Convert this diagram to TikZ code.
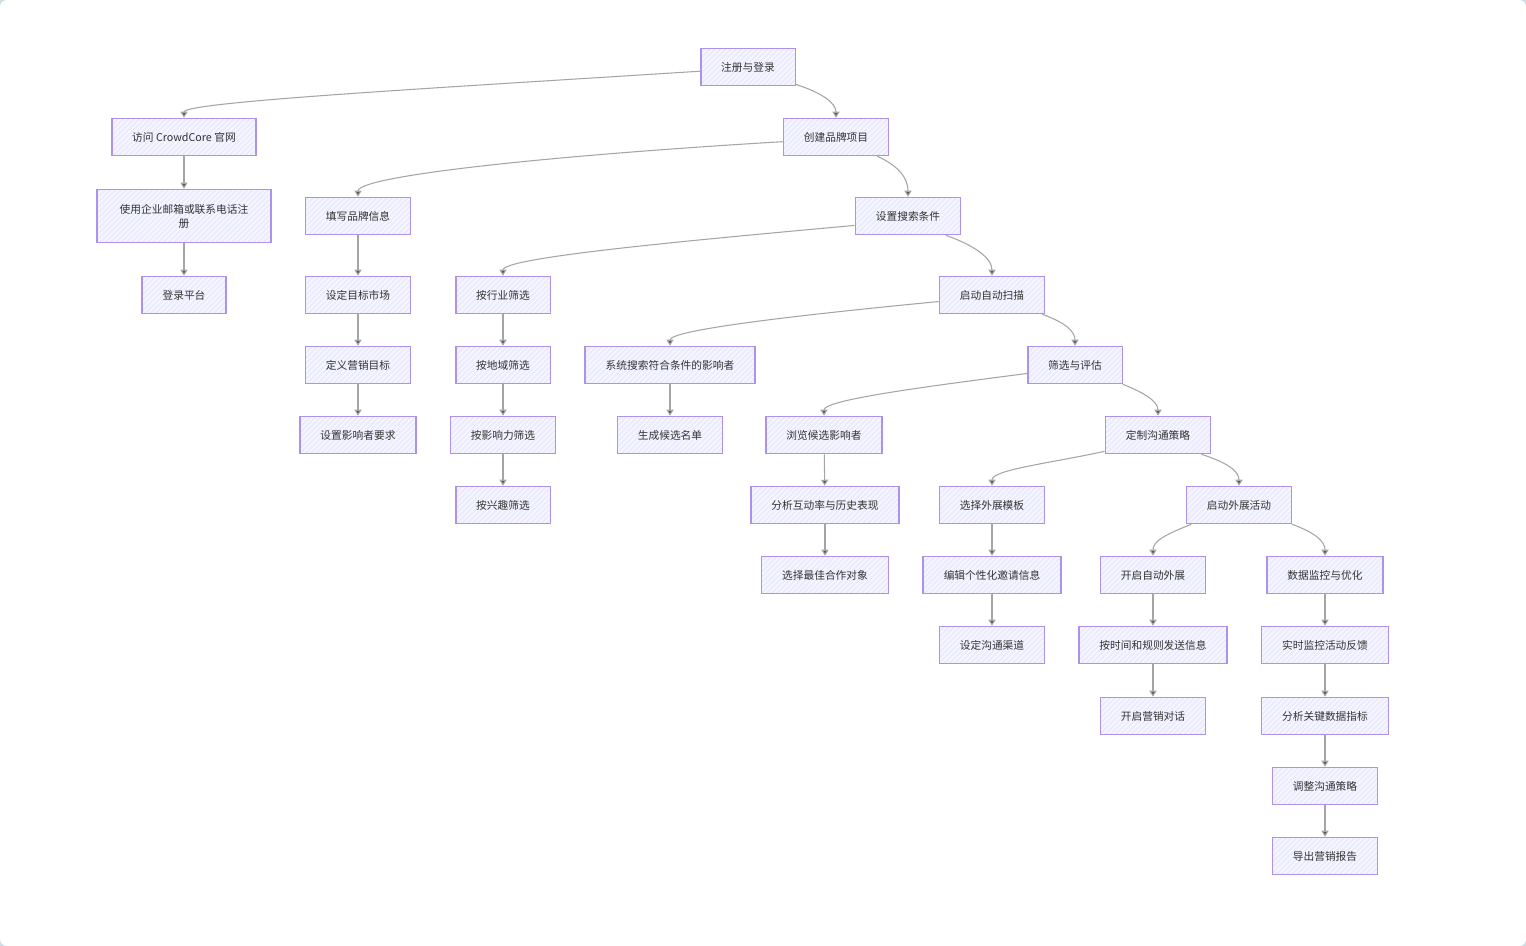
\documentclass[tikz,border=0pt]{standalone}
\usepackage{fontspec}
\usetikzlibrary{arrows.meta,patterns}
\newfontfamily\cjk{Noto Sans CJK SC}
\definecolor{boxfill}{RGB}{236,236,255}
\definecolor{boxline}{RGB}{172,146,236}
\definecolor{linkgray}{RGB}{165,165,165}
\definecolor{tipgray}{RGB}{85,85,85}
\definecolor{txtgray}{RGB}{51,51,51}
\definecolor{corner}{RGB}{205,222,228}
\tikzset{
  stepbox/.style={draw=boxline, line width=0.9pt, preaction={fill=boxfill},
    pattern=north east lines, pattern color=white, text=txtgray,
    font=\cjk\fontsize{6.1}{8}\selectfont, inner xsep=0.41cm,
    minimum height=0.74cm, align=center},
  link/.style={draw=linkgray, line width=0.6pt,
    -{Triangle[length=3.4pt,width=4pt,fill=tipgray]}}
}
\begin{document}
\begin{tikzpicture}[x=0.02cm, y=-0.02cm]
% canvas
\fill [corner] (0,0) rectangle (1526,946);
\fill [white, rounded corners=0.14cm] (0,0) rectangle (1526,946);
\useasboundingbox (0,0) rectangle (1526,946);

% nodes
\node [stepbox] (reg) at (748,67) {注册与登录};
\node [stepbox] (visit) at (184,137) {访问 CrowdCore 官网};
\node [stepbox] (create) at (836,137) {创建品牌项目};
\node [stepbox, minimum height=1.06cm, inner xsep=0.45cm] (signup) at (184,216) {使用企业邮箱或联系电话注\\册};
\node [stepbox] (brand) at (358,216) {填写品牌信息};
\node [stepbox] (search) at (908,216) {设置搜索条件};
\node [stepbox] (login) at (184,295) {登录平台};
\node [stepbox] (market) at (358,295) {设定目标市场};
\node [stepbox] (industry) at (503,295) {按行业筛选};
\node [stepbox] (scan) at (992,295) {启动自动扫描};
\node [stepbox] (goal) at (358,365) {定义营销目标};
\node [stepbox] (region) at (503,365) {按地域筛选};
\node [stepbox] (sysearch) at (670,365) {系统搜索符合条件的影响者};
\node [stepbox] (evaluate) at (1075,365) {筛选与评估};
\node [stepbox] (require) at (358,435) {设置影响者要求};
\node [stepbox] (influence) at (503,435) {按影响力筛选};
\node [stepbox] (shortlist) at (670,435) {生成候选名单};
\node [stepbox] (browse) at (824,435) {浏览候选影响者};
\node [stepbox] (strategy) at (1158,435) {定制沟通策略};
\node [stepbox] (interest) at (503,505) {按兴趣筛选};
\node [stepbox] (analyze) at (825,505) {分析互动率与历史表现};
\node [stepbox] (template) at (992,505) {选择外展模板};
\node [stepbox] (launch) at (1239,505) {启动外展活动};
\node [stepbox] (best) at (825,575) {选择最佳合作对象};
\node [stepbox] (edit) at (992,575) {编辑个性化邀请信息};
\node [stepbox] (auto) at (1153,575) {开启自动外展};
\node [stepbox] (monitor) at (1325,575) {数据监控与优化};
\node [stepbox] (channel) at (992,645) {设定沟通渠道};
\node [stepbox] (send) at (1153,645) {按时间和规则发送信息};
\node [stepbox] (feedback) at (1325,645) {实时监控活动反馈};
\node [stepbox] (chat) at (1153,716) {开启营销对话};
\node [stepbox] (kpi) at (1325,716) {分析关键数据指标};
\node [stepbox] (adjust) at (1325,786) {调整沟通策略};
\node [stepbox] (export) at (1325,856) {导出营销报告};

% branching links
\draw [link] (reg.185) .. controls +(-250,16) and +(0,-16) .. (visit.north);
\draw [link] (reg.-20) .. controls +(25,8) and +(0,-15) .. (create.north);
\draw [link] (create.185) .. controls +(-250,15) and +(0,-20) .. (brand.north);
\draw [link] (create.-25) .. controls +(22,10) and +(0,-18) .. (search.north);
\draw [link] (search.190) .. controls +(-176,16) and +(0,-18) .. (industry.north);
\draw [link] (search.-27) .. controls +(28,10) and +(0,-18) .. (scan.north);
\draw [link] (scan.187) .. controls +(-135,13) and +(0,-16) .. (sysearch.north);
\draw [link] (scan.-21) .. controls +(22,8) and +(0,-15) .. (evaluate.north);
\draw [link] (evaluate.190) .. controls +(-100,13) and +(0,-16) .. (browse.north);
\draw [link] (evaluate.-22) .. controls +(20,8) and +(0,-15) .. (strategy.north);
\draw [link] (strategy.197) .. controls +(-55,12) and +(0,-16) .. (template.north);
\draw [link] (strategy.-24) .. controls +(25,8) and +(0,-15) .. (launch.north);
\draw [link] (launch.202) .. controls +(-25,10) and +(0,-15) .. (auto.north);
\draw [link] (launch.-20) .. controls +(22,8) and +(0,-15) .. (monitor.north);

% straight links
\foreach \a/\b in {visit/signup, signup/login, brand/market, market/goal, goal/require,
  industry/region, region/influence, influence/interest, sysearch/shortlist,
  browse/analyze, analyze/best, template/edit, edit/channel, auto/send, send/chat,
  monitor/feedback, feedback/kpi, kpi/adjust, adjust/export}
  \draw [link] (\a) -- (\b);
\end{tikzpicture}
\end{document}
